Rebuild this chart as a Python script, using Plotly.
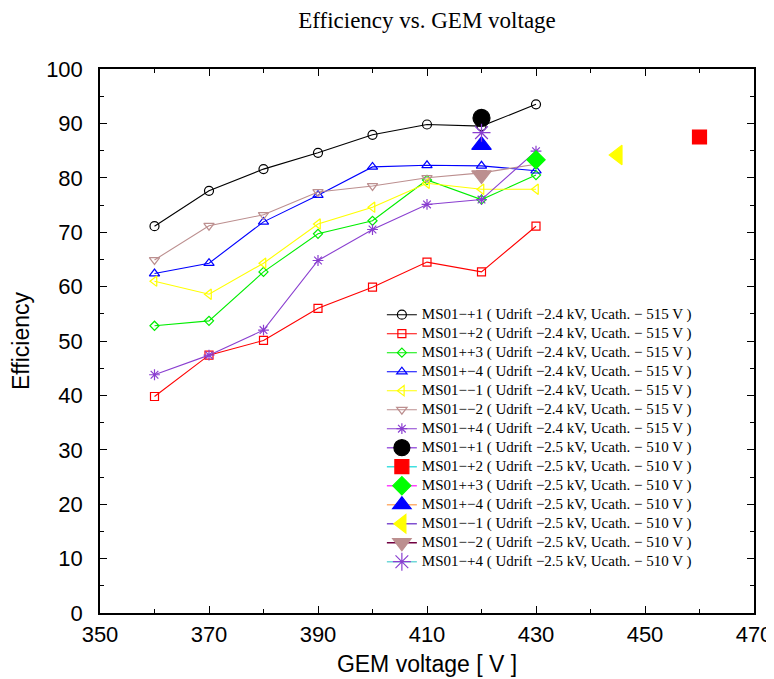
import plotly.graph_objects as go

# ---- data ----
voltage = [360, 370, 380, 390, 400, 410, 420, 430]
eff_p1 = [71.1, 77.6, 81.6, 84.6, 87.9, 89.8, 89.5, 93.5]
eff_p2 = [39.8, 47.4, 50.1, 56.0, 59.9, 64.5, 62.7, 71.1]
eff_pp3 = [52.8, 53.7, 62.7, 69.7, 72.1, 79.6, 76.0, 80.5]
eff_pm4 = [62.4, 64.3, 71.9, 76.8, 82.0, 82.3, 82.2, 81.3]
eff_mm1 = [61.0, 58.6, 64.3, 71.5, 74.6, 79.0, 77.9, 77.9]
eff_mm2 = [64.9, 71.2, 73.2, 77.4, 78.5, 80.0, 80.9, 82.5]
eff_mp4 = [43.8, 47.4, 52.0, 64.8, 70.5, 75.1, 76.0, 84.9]

set1_names = ["MS01\u2212+1", "MS01\u2212+2", "MS01++3", "MS01+\u22124",
              "MS01\u2212\u22121", "MS01\u2212\u22122", "MS01\u2212+4"]
set1_values = [eff_p1, eff_p2, eff_pp3, eff_pm4, eff_mm1, eff_mm2, eff_mp4]
set1_label = " ( Udrift \u22122.4 kV, Ucath. \u2212 515 V )"

set2_names = set1_names
set2_voltage = [420, 460, 430, 420, 445, 420, 420]
set2_eff = [91.0, 87.5, 83.3, 86.0, 84.2, 80.5, 88.3]
set2_label = " ( Udrift \u22122.5 kV, Ucath. \u2212 510 V )"

title_text = "Efficiency vs. GEM voltage"
x_title = "GEM voltage [ V ]"
y_title = "Efficiency"

# ---- styles ----
set1_colors = ["#000000", "#ff0000", "#00ee00", "#0000ff", "#ffff00", "#bc8f8f", "#8a3fd0"]
set1_symbols = ["circle-open", "square-open", "diamond-open", "triangle-up-open",
                "triangle-left-open", "triangle-down-open", "asterisk-open"]
set1_sizes = [9, 8, 7, 9, 9, 9, 9]

set2_colors = ["#000000", "#ff0000", "#00ff00", "#0000ff", "#ffff00", "#bc8f8f", "#8a3fd0"]
set2_line_colors = ["#a060e0", "#40e0e0", "#ff40ff", "#ffb070", "#8050d0", "#700040", "#70d8d8"]
set2_symbols = ["circle", "square", "diamond", "triangle-up", "triangle-left",
                "triangle-down", "asterisk-open"]
set2_sizes = [17, 14, 14, 17, 17, 17, 15]

SANS = "Liberation Sans, Arial, Helvetica, sans-serif"
SERIF = "Liberation Serif, Times New Roman, serif"

fig = go.Figure()

def lab(t):
    return '<span style="font-size:15px">' + t + '</span>'

for name, vals, c, s, sz in zip(set1_names, set1_values, set1_colors, set1_symbols, set1_sizes):
    fig.add_trace(go.Scatter(
        x=voltage, y=vals, mode="lines+markers", name=lab(name + set1_label),
        line=dict(color=c, width=1.1),
        marker=dict(symbol=s, size=sz, color=c, line=dict(color=c, width=1.2)),
    ))

for name, xv, yv, c, lc, s, sz in zip(set2_names, set2_voltage, set2_eff, set2_colors,
                                      set2_line_colors, set2_symbols, set2_sizes):
    fig.add_trace(go.Scatter(
        x=[xv], y=[yv], mode="lines+markers", name=lab(name + set2_label),
        line=dict(color=lc, width=1.5),
        marker=dict(symbol=s, size=sz, color=c, line=dict(color=c, width=1.2)),
    ))

axis_common = dict(
    showline=True, linecolor="black", linewidth=1.5, mirror="allticks",
    ticks="inside", ticklen=7, tickwidth=1.3, tickcolor="black",
    showgrid=False, zeroline=False, automargin=False,
    tickfont=dict(family=SANS, size=22, color="black"),
)

# the page body adds an 8px offset, so the figure is sized to the visible window
fig.update_layout(
    width=766, height=671,
    margin=dict(l=92, r=20, t=61, b=66),
    paper_bgcolor="white", plot_bgcolor="white",
    title=dict(text=title_text, x=0.547, xanchor="center", y=0.982, yanchor="middle",
               font=dict(family=SERIF, size=23, color="black")),
    xaxis=dict(range=[350, 470], tick0=350, dtick=20,
               minor=dict(dtick=10, ticks="inside", ticklen=4, tickcolor="black", tickwidth=1.2),
               title=dict(text=x_title, standoff=10,
                          font=dict(family=SANS, size=23, color="black")),
               ticklabelstandoff=1,
               **axis_common),
    yaxis=dict(range=[0, 100], tick0=0, dtick=10,
               minor=dict(dtick=5, ticks="inside", ticklen=4, tickcolor="black", tickwidth=1.2),
               title=dict(text=y_title, standoff=10,
                          font=dict(family=SANS, size=23, color="black")),
               ticklabelstandoff=11,
               **axis_common),
    legend=dict(x=0.431, xanchor="left", y=0.575, yanchor="top",
                bgcolor="rgba(0,0,0,0)", borderwidth=0, tracegroupgap=0,
                font=dict(family=SERIF, size=12, color="black")),
    showlegend=True,
)

fig.write_html("out.html")
